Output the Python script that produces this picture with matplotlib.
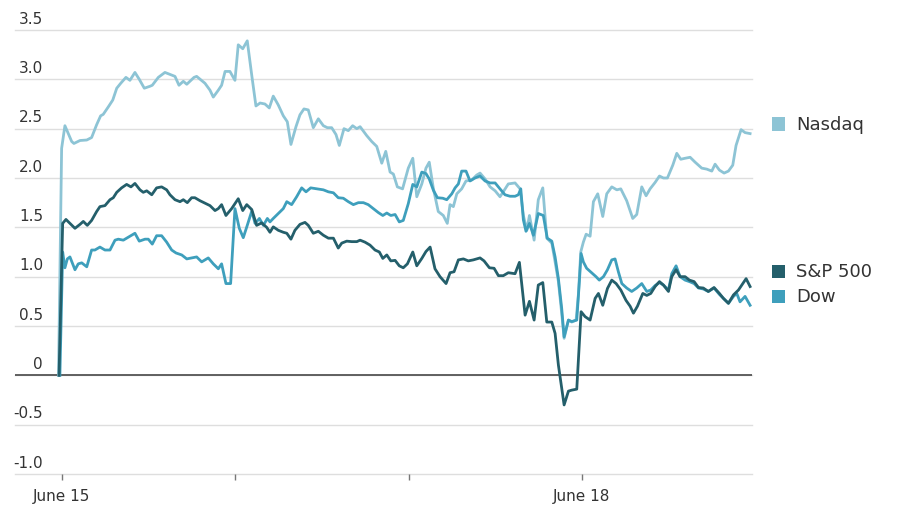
import matplotlib
matplotlib.use("Agg")
import matplotlib.pyplot as plt
from matplotlib.patches import Rectangle

# ---- data (time in days since June 15 open, % change) ----
nasdaq_t = [-0.020, -0.002, 0.017, 0.056, 0.069, 0.104, 0.143, 0.171, 0.200, 0.223, 0.238, 0.267,
            0.293, 0.316, 0.339, 0.369, 0.392, 0.421, 0.446, 0.475, 0.508, 0.521, 0.556, 0.594,
            0.623, 0.652, 0.675, 0.700, 0.720, 0.762, 0.777, 0.825, 0.854, 0.873, 0.902, 0.921,
            0.941, 0.969, 0.998, 1.017, 1.043, 1.069, 1.095, 1.119, 1.143, 1.171, 1.196, 1.219,
            1.248, 1.277, 1.300, 1.321, 1.350, 1.373, 1.396, 1.421, 1.450, 1.479, 1.508, 1.531,
            1.556, 1.581, 1.600, 1.627, 1.652, 1.677, 1.701, 1.720, 1.758, 1.787, 1.816, 1.845,
            1.868, 1.893, 1.912, 1.935, 1.950, 1.965, 1.998, 2.024, 2.047, 2.076, 2.100, 2.119,
            2.143, 2.171, 2.200, 2.223, 2.239, 2.258, 2.278, 2.306, 2.331, 2.364, 2.393, 2.412,
            2.441, 2.470, 2.499, 2.527, 2.546, 2.575, 2.614, 2.643, 2.662, 2.682, 2.697, 2.724,
            2.748, 2.774, 2.797, 2.826, 2.845, 2.864, 2.883, 2.897, 2.922, 2.941, 2.966, 2.979,
            2.993, 3.008, 3.024, 3.047, 3.066, 3.091, 3.120, 3.143, 3.172, 3.201, 3.224, 3.258,
            3.293, 3.316, 3.345, 3.370, 3.393, 3.422, 3.447, 3.470, 3.493, 3.524, 3.547, 3.570,
            3.595, 3.624, 3.653, 3.691, 3.720, 3.749, 3.768, 3.793, 3.820, 3.845, 3.870, 3.889,
            3.918, 3.941, 3.970]
nasdaq_v = [0.0, 2.30, 2.53, 2.37, 2.35, 2.38, 2.385, 2.41, 2.54, 2.63, 2.645, 2.72,
            2.79, 2.91, 2.96, 3.02, 2.99, 3.07, 3.00, 2.91, 2.93, 2.94, 3.02, 3.07,
            3.05, 3.03, 2.94, 2.98, 2.95, 3.02, 3.03, 2.96, 2.89, 2.82, 2.89, 2.94,
            3.08, 3.08, 2.99, 3.35, 3.31, 3.39, 3.04, 2.73, 2.76, 2.75, 2.71, 2.83,
            2.74, 2.63, 2.57, 2.34, 2.52, 2.64, 2.70, 2.69, 2.51, 2.60, 2.53, 2.51,
            2.51, 2.44, 2.33, 2.50, 2.48, 2.53, 2.50, 2.52, 2.43, 2.37, 2.32, 2.15,
            2.27, 2.06, 2.04, 1.91, 1.90, 1.89, 2.10, 2.20, 1.81, 1.94, 2.10, 2.16,
            1.89, 1.66, 1.62, 1.54, 1.73, 1.71, 1.84, 1.89, 1.97, 1.98, 2.03, 2.05,
            1.99, 1.91, 1.87, 1.81, 1.86, 1.94, 1.95, 1.89, 1.62, 1.47, 1.62, 1.37,
            1.78, 1.90, 1.39, 1.34, 1.15, 0.95, 0.63, 0.375, 0.56, 0.54, 0.56, 0.81,
            1.25, 1.35, 1.43, 1.41, 1.76, 1.84, 1.61, 1.84, 1.91, 1.88, 1.89, 1.77,
            1.59, 1.63, 1.91, 1.82, 1.89, 1.955, 2.02, 2.00, 2.00, 2.13, 2.25, 2.19,
            2.20, 2.21, 2.16, 2.10, 2.09, 2.07, 2.14, 2.08, 2.05, 2.07, 2.13, 2.33,
            2.49, 2.46, 2.45]

sp500_t = [-0.017, 0.004, 0.023, 0.046, 0.075, 0.104, 0.123, 0.146, 0.171, 0.200, 0.219, 0.248,
           0.277, 0.296, 0.316, 0.344, 0.373, 0.398, 0.421, 0.450, 0.469, 0.489, 0.518, 0.546,
           0.575, 0.604, 0.623, 0.652, 0.681, 0.700, 0.723, 0.748, 0.767, 0.796, 0.825, 0.854,
           0.883, 0.902, 0.921, 0.946, 0.979, 1.017, 1.043, 1.066, 1.095, 1.123, 1.152, 1.181,
           1.200, 1.219, 1.248, 1.277, 1.297, 1.321, 1.344, 1.373, 1.402, 1.421, 1.450, 1.479,
           1.508, 1.537, 1.566, 1.594, 1.614, 1.643, 1.672, 1.701, 1.720, 1.748, 1.777, 1.806,
           1.831, 1.851, 1.874, 1.897, 1.922, 1.946, 1.969, 1.993, 2.024, 2.047, 2.076, 2.100,
           2.124, 2.152, 2.181, 2.216, 2.239, 2.262, 2.287, 2.316, 2.344, 2.373, 2.412, 2.435,
           2.466, 2.493, 2.518, 2.546, 2.575, 2.614, 2.639, 2.672, 2.697, 2.724, 2.748, 2.774,
           2.797, 2.826, 2.845, 2.864, 2.883, 2.897, 2.922, 2.941, 2.970, 2.985, 2.995, 3.018,
           3.047, 3.076, 3.095, 3.120, 3.147, 3.172, 3.197, 3.224, 3.254, 3.278, 3.297, 3.320,
           3.351, 3.374, 3.397, 3.422, 3.447, 3.470, 3.499, 3.518, 3.543, 3.566, 3.595, 3.620,
           3.647, 3.672, 3.700, 3.729, 3.762, 3.793, 3.816, 3.845, 3.874, 3.903, 3.922, 3.947,
           3.970]
sp500_v = [0.0, 1.54, 1.58, 1.54, 1.49, 1.53, 1.56, 1.52, 1.57, 1.66, 1.71, 1.72,
           1.78, 1.80, 1.855, 1.90, 1.935, 1.91, 1.945, 1.88, 1.855, 1.87, 1.83, 1.90,
           1.91, 1.88, 1.83, 1.78, 1.76, 1.78, 1.75, 1.80, 1.80, 1.77, 1.745, 1.72,
           1.67, 1.69, 1.73, 1.62, 1.69, 1.79, 1.67, 1.73, 1.68, 1.52, 1.545, 1.50,
           1.45, 1.505, 1.47, 1.45, 1.44, 1.38, 1.47, 1.53, 1.55, 1.52, 1.44, 1.46,
           1.42, 1.39, 1.39, 1.29, 1.34, 1.36, 1.355, 1.355, 1.37, 1.35, 1.32, 1.27,
           1.25, 1.185, 1.22, 1.16, 1.165, 1.11, 1.09, 1.13, 1.25, 1.11, 1.185, 1.255,
           1.30, 1.08, 1.00, 0.93, 1.04, 1.05, 1.17, 1.18, 1.16, 1.17, 1.19, 1.16,
           1.09, 1.085, 1.01, 1.01, 1.04, 1.03, 1.145, 0.61, 0.75, 0.56, 0.915, 0.94,
           0.54, 0.54, 0.425, 0.105, -0.13, -0.30, -0.16, -0.15, -0.14, 0.34, 0.645, 0.595,
           0.56, 0.78, 0.83, 0.71, 0.88, 0.965, 0.93, 0.865, 0.76, 0.70, 0.63, 0.70,
           0.83, 0.81, 0.83, 0.90, 0.95, 0.915, 0.85, 1.00, 1.07, 1.00, 1.00, 0.965,
           0.95, 0.89, 0.885, 0.85, 0.89, 0.83, 0.78, 0.73, 0.815, 0.865, 0.915, 0.98,
           0.90]

dow_t = [-0.012, 0.004, 0.017, 0.031, 0.046, 0.075, 0.094, 0.114, 0.143, 0.171, 0.190, 0.219,
         0.248, 0.277, 0.306, 0.325, 0.354, 0.383, 0.421, 0.446, 0.479, 0.498, 0.521, 0.546,
         0.575, 0.604, 0.633, 0.658, 0.691, 0.720, 0.748, 0.777, 0.806, 0.844, 0.873, 0.902,
         0.921, 0.946, 0.973, 0.998, 1.023, 1.046, 1.069, 1.095, 1.114, 1.139, 1.162, 1.185,
         1.200, 1.219, 1.248, 1.277, 1.297, 1.325, 1.354, 1.383, 1.408, 1.435, 1.470, 1.508,
         1.537, 1.566, 1.594, 1.623, 1.652, 1.681, 1.710, 1.739, 1.767, 1.796, 1.825, 1.851,
         1.874, 1.897, 1.922, 1.946, 1.969, 1.998, 2.024, 2.047, 2.076, 2.100, 2.119, 2.143,
         2.166, 2.197, 2.220, 2.249, 2.268, 2.287, 2.306, 2.331, 2.354, 2.383, 2.412, 2.441,
         2.470, 2.499, 2.527, 2.556, 2.585, 2.614, 2.633, 2.647, 2.662, 2.677, 2.697, 2.720,
         2.748, 2.777, 2.800, 2.826, 2.845, 2.864, 2.883, 2.897, 2.922, 2.941, 2.970, 2.985,
         2.995, 3.008, 3.027, 3.056, 3.081, 3.100, 3.124, 3.147, 3.172, 3.191, 3.210, 3.230,
         3.258, 3.287, 3.316, 3.345, 3.374, 3.397, 3.422, 3.447, 3.470, 3.499, 3.518, 3.543,
         3.566, 3.595, 3.620, 3.647, 3.672, 3.700, 3.729, 3.762, 3.793, 3.816, 3.845, 3.874,
         3.893, 3.912, 3.941, 3.970]
dow_v = [0.0, 1.25, 1.09, 1.18, 1.20, 1.07, 1.13, 1.14, 1.10, 1.27, 1.27, 1.30,
         1.27, 1.27, 1.37, 1.38, 1.37, 1.40, 1.44, 1.36, 1.38, 1.38, 1.33, 1.415,
         1.415, 1.35, 1.27, 1.24, 1.22, 1.18, 1.19, 1.20, 1.15, 1.19, 1.13, 1.08,
         1.13, 0.93, 0.93, 1.69, 1.49, 1.395, 1.52, 1.665, 1.54, 1.59, 1.52, 1.59,
         1.555, 1.59, 1.64, 1.69, 1.76, 1.73, 1.81, 1.90, 1.86, 1.90, 1.89, 1.88,
         1.86, 1.85, 1.80, 1.795, 1.76, 1.73, 1.75, 1.75, 1.73, 1.69, 1.65, 1.62,
         1.645, 1.62, 1.63, 1.555, 1.57, 1.74, 1.935, 1.91, 2.06, 2.045, 1.99, 1.875,
         1.80, 1.795, 1.78, 1.84, 1.90, 1.94, 2.07, 2.07, 1.97, 2.00, 2.02, 1.97,
         1.95, 1.95, 1.89, 1.83, 1.815, 1.815, 1.83, 1.89, 1.575, 1.46, 1.54, 1.42,
         1.64, 1.62, 1.39, 1.36, 1.20, 0.98, 0.68, 0.39, 0.56, 0.545, 0.56, 0.95,
         1.235, 1.15, 1.085, 1.04, 1.00, 0.965, 1.00, 1.07, 1.17, 1.18, 1.05, 0.93,
         0.885, 0.85, 0.885, 0.93, 0.85, 0.865, 0.91, 0.94, 0.915, 0.865, 1.03, 1.11,
         1.00, 0.965, 0.95, 0.93, 0.885, 0.875, 0.85, 0.885, 0.82, 0.78, 0.73, 0.80,
         0.83, 0.745, 0.80, 0.71]

series_names = ["Nasdaq", "S&P 500", "Dow"]
y_ticks = [-1.0, -0.5, 0, 0.5, 1.0, 1.5, 2.0, 2.5, 3.0, 3.5]
y_tick_labels = ["-1.0", "-0.5", "0", "0.5", "1.0", "1.5", "2.0", "2.5", "3.0", "3.5"]
x_ticks = [0, 1, 2, 3]
x_tick_labels = ["June 15", "", "", "June 18"]

# ---- style ----
c_nasdaq = "#8dc4d5"
c_sp = "#245f6b"
c_dow = "#3e9fbc"
txt = "#333333"
plt.rcParams["font.family"] = ["DejaVu Sans"]

fig = plt.figure(figsize=(9, 5.1), dpi=100)
ax = fig.add_axes([15 / 900, 35 / 510, 737 / 900, 444 / 510])
ax.set_xlim(-0.271, 3.981)
ax.set_ylim(-1.0, 3.5)

for s in ax.spines.values():
    s.set_visible(False)

for yv in y_ticks:
    ax.axhline(yv, color="#dedede", lw=1.0, zorder=1, clip_on=False)
ax.axhline(0, color="#555555", lw=1.3, zorder=2)

ax.plot(nasdaq_t, nasdaq_v, color=c_nasdaq, lw=2.0, zorder=3, solid_joinstyle="round", clip_on=False)
ax.plot(dow_t, dow_v, color=c_dow, lw=2.0, zorder=4, solid_joinstyle="round", clip_on=False)
ax.plot(sp500_t, sp500_v, color=c_sp, lw=2.0, zorder=5, solid_joinstyle="round", clip_on=False)

ax.set_yticks([])
for yv, lab in zip(y_ticks, y_tick_labels):
    ax.annotate(lab, xy=(0.038, yv), xycoords=("axes fraction", "data"),
                xytext=(0, 3), textcoords="offset points",
                ha="right", va="bottom", fontsize=11, color=txt)

ax.set_xticks(x_ticks)
ax.set_xticklabels(x_tick_labels, fontsize=11, color=txt)
ax.tick_params(axis="x", length=4, width=1, color="#777777", pad=6, direction="out")

# legend
leg_items = [("Nasdaq", c_nasdaq, 125), ("S&P 500", c_sp, 272), ("Dow", c_dow, 297)]
for name, col, ypx in leg_items:
    fig.patches.append(Rectangle((772 / 900, (510 - ypx - 6.5) / 510), 13 / 900, 13 / 510,
                                 transform=fig.transFigure, facecolor=col, edgecolor="none"))
    fig.text(796 / 900, (510 - ypx) / 510, name, ha="left", va="center",
             fontsize=13, color=txt)

fig.savefig("out.png", dpi=100)
